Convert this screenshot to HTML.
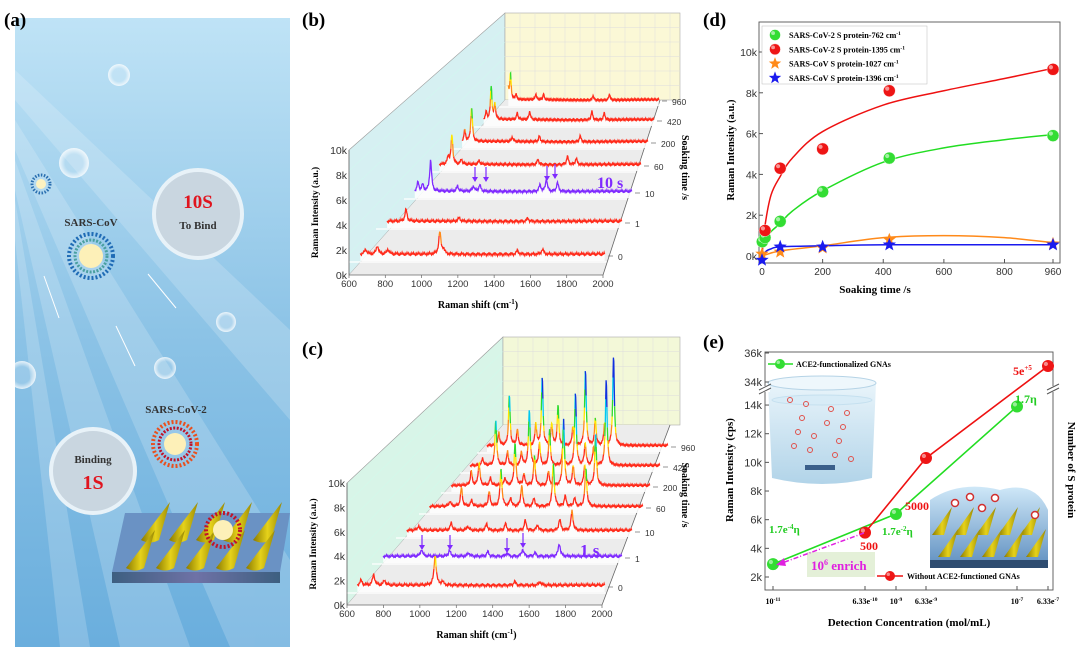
<!DOCTYPE html>
<html><head><meta charset="utf-8">
<style>
html,body{margin:0;padding:0;background:#fff;}
svg{display:block;font-family:"Liberation Sans",sans-serif;}
.serif{font-family:"Liberation Serif",serif;font-weight:bold;}
</style></head>
<body>
<svg id="fig" width="1080" height="663" viewBox="0 0 1080 663" xmlns="http://www.w3.org/2000/svg">
<defs>
<linearGradient id="bgA" x1="0" y1="0" x2="0" y2="1">
<stop offset="0" stop-color="#bfe3f6"/><stop offset="0.5" stop-color="#8cc3e6"/><stop offset="1" stop-color="#6aaedd"/></linearGradient>
<linearGradient id="sub" x1="0" y1="0" x2="1" y2="0"><stop offset="0" stop-color="#3d5f80"/><stop offset="0.5" stop-color="#6f72a6"/><stop offset="1" stop-color="#3d5f80"/></linearGradient>
<radialGradient id="bub"><stop offset="0.6" stop-color="#fff" stop-opacity="0.15"/><stop offset="1" stop-color="#fff" stop-opacity="0.8"/></radialGradient>
<linearGradient id="cone" x1="0" y1="0" x2="1" y2="0"><stop offset="0" stop-color="#8a7a00"/><stop offset="0.5" stop-color="#e6d21a"/><stop offset="1" stop-color="#9a8a05"/></linearGradient>
<linearGradient id="beaker" x1="0" y1="0" x2="0" y2="1"><stop offset="0" stop-color="#e6f3fa"/><stop offset="1" stop-color="#a9cfe6"/></linearGradient>
<linearGradient id="drop" x1="0" y1="0" x2="0" y2="1"><stop offset="0" stop-color="#cfe8f8"/><stop offset="1" stop-color="#5f8fc0"/></linearGradient>
</defs>

<!-- Panel (a) -->
<g>
<rect x="15" y="18" width="275" height="629" fill="url(#bgA)"/>
<text x="4" y="26" class="serif" font-size="19">(a)</text>
<g fill="#fff" opacity="0.18">
<polygon points="15,70 15,100 290,420 290,330"/>
<polygon points="15,120 15,150 230,647 290,647 290,560"/>
<polygon points="15,160 15,190 120,647 190,647"/>
<polygon points="15,200 15,240 60,647 90,647"/>
</g>
<g>
<circle cx="119" cy="75" r="11" fill="url(#bub)"/><circle cx="74" cy="163" r="15" fill="url(#bub)"/>
<circle cx="226" cy="322" r="10" fill="url(#bub)"/><circle cx="165" cy="368" r="11" fill="url(#bub)"/>
<circle cx="22" cy="375" r="14" fill="url(#bub)"/>
</g>
<g><circle cx="41" cy="184" r="9" fill="none" stroke="#2a6fb0" stroke-width="3" stroke-dasharray="1.5 1.5"/><circle cx="41" cy="184" r="5" fill="#fdf2c0"/></g>
<g><circle cx="91" cy="256" r="22" fill="none" stroke="#1f6bb5" stroke-width="4" stroke-dasharray="2 2"/><circle cx="91" cy="256" r="16" fill="none" stroke="#4aa0a0" stroke-width="3" stroke-dasharray="2 1.5"/><circle cx="91" cy="256" r="12" fill="#fdf0b8"/></g>
<text x="91" y="226" text-anchor="middle" class="serif" font-size="11" fill="#333">SARS-CoV</text>
<circle cx="198" cy="214" r="44" fill="#c9d6e0" stroke="#e8f2f8" stroke-width="4"/>
<text x="198" y="208" text-anchor="middle" class="serif" font-size="19" fill="#e0141e">10S</text>
<text x="198" y="229" text-anchor="middle" class="serif" font-size="11" fill="#333">To Bind</text>
<circle cx="93" cy="471" r="42" fill="#c9d6e0" stroke="#e8f2f8" stroke-width="4"/>
<text x="93" y="463" text-anchor="middle" class="serif" font-size="11" fill="#333">Binding</text>
<text x="93" y="489" text-anchor="middle" class="serif" font-size="20" fill="#e0141e">1S</text>
<g stroke="#fff" stroke-width="1" fill="#fff">
<line x1="44" y1="276" x2="59" y2="318"/><line x1="148" y1="274" x2="176" y2="308"/><line x1="116" y1="326" x2="135" y2="366"/></g>
<text x="176" y="413" text-anchor="middle" class="serif" font-size="11" fill="#333">SARS-CoV-2</text>
<g><circle cx="175" cy="444" r="22" fill="none" stroke="#e8501e" stroke-width="4" stroke-dasharray="2 2"/><circle cx="175" cy="444" r="16" fill="none" stroke="#c0142a" stroke-width="3" stroke-dasharray="2 1.5"/><circle cx="175" cy="444" r="11" fill="#fdf0b8"/></g>
<polygon points="125,513 290,513 280,572 112,572" fill="#6a92c4"/>
<rect x="112" y="572" width="168" height="11" fill="url(#sub)"/>
<g id="cones"></g>
<g><circle cx="223" cy="530" r="17" fill="none" stroke="#c0142a" stroke-width="4" stroke-dasharray="2 2"/><circle cx="223" cy="530" r="10" fill="#fdf0b8"/></g>
</g>

<text x="302" y="26" class="serif" font-size="19">(b)</text>
<text x="302" y="355" class="serif" font-size="19">(c)</text>
<text x="703" y="26" class="serif" font-size="19">(d)</text>
<text x="703" y="348" class="serif" font-size="19">(e)</text>

<g id="panelB"></g>
<g id="panelC"></g>
<g id="panelD"></g>
<g id="panelE"></g>
</svg>

<script>
const NS="http://www.w3.org/2000/svg";
function mk(tag,attrs,parent,text){const e=document.createElementNS(NS,tag);for(const k in attrs)e.setAttribute(k,attrs[k]);if(text!==undefined)e.textContent=text;if(parent)parent.appendChild(e);return e;}

(function(){const g=document.getElementById('cones');
const conePos=[[150,540],[178,540],[205,540],[232,540],[262,540],[135,568],[165,568],[195,568],[225,568],[255,568]];
conePos.forEach(p=>{const c=mk('path',{d:`M${p[0]-9},${p[1]} Q${p[0]},${p[1]+5} ${p[0]+9},${p[1]} L${p[0]+20},${p[1]-38} Z`,fill:'url(#cone)'},g);

});})();

const shiftTicks=[600,800,1000,1200,1400,1600,1800,2000];
const intensityTicks=[0,2,4,6,8,10];
const soakLabels=["0","1","10","60","200","420","960"];
const bPeaks0=[[660,.4],[725,.7],[785,.4],[1075,1.8],[1095,.4],[1510,.3],[1650,.4]];
const bPeaks1=[[740,1.0],[1050,.3],[1450,.25]];
const bPeaks10=[[650,.8],[680,.6],[730,2.9],[900,.5],[1000,.5],[1040,.6],[1420,.6],[1460,1.1],[1530,.8]];
const bPeaks60=[[690,.8],[715,2.9],[780,.5],[900,.4],[1300,.5],[1500,.8],[1560,.6]];
const bPeaks200=[[650,1.2],[700,3.7],[1000,.5],[1200,.6],[1500,.6]];
const bPeaks420=[[650,.9],[690,3.9],[720,1.8],[900,.8],[1000,1],[1500,1],[1600,.8]];
const bPeaks960=[[630,1.5],[650,3.4],[700,.8],[880,.8],[950,.8],[1400,.6],[1550,.8]];
const cPeaks0=[[650,.4],[720,.9],[780,.4],[1060,2.5],[1100,.3],[1500,.3],[1640,.3]];
const cPeaks1=[[850,.6],[1010,.5],[1120,.3],[1230,.4],[1340,.3],[1430,.6],[1500,.3],[1640,1.1]];
const cPeaks10=[[700,.4],[900,.7],[1000,.4],[1115,.6],[1230,.6],[1350,.9],[1425,.5],[1560,1.0],[1635,1.8]];
const cPeaks60=[[760,.5],[834,1.8],[900,.6],[1012,1.4],[1088,3.6],[1150,.8],[1221,2.0],[1300,.8],[1424,4.2],[1500,1.0],[1560,.8],[1633,3.7]];
const cPeaks200=[[767,1.5],[821,2.4],[900,.8],[1000,.8],[1069,4.4],[1130,1.2],[1203,3.0],[1300,1.5],[1404,6.8],[1470,2.0],[1550,2.2],[1625,5.2]];
const cPeaks420=[[720,.8],[815,5.0],[900,1.5],[1000,1.5],[1057,6.1],[1130,2.5],[1203,3.8],[1300,2.2],[1390,7.9],[1460,2.5],[1520,2.0],[1612,9.4]];
const cPeaks960=[[720,1.5],[799,5.7],[860,1.8],[1000,2.5],[1048,7.7],[1120,2.5],[1168,4.5],[1280,2.2],[1375,8.5],[1450,3.0],[1520,2.5],[1588,10.2]];

function heightColor(k){if(k<1.3)return '#ff2a1a';if(k<2.2)return '#ff8a1a';if(k<3.2)return '#ffe600';if(k<4.8)return '#2edb2e';if(k<7)return '#00c8f0';return '#1030e0';}

function waterfall(gid,geo,rows,peaksList,special,clipX){
 const g=document.getElementById(gid);
 const [ax,a0,a10,xr,backX,backTop,backBot,rightBack,wallCol,backCol]=geo;
 const sw=mk('polygon',{points:`${ax},${a10} ${backX},${backTop} ${backX},${backBot} ${ax},${a0}`,fill:wallCol,stroke:'#999','stroke-width':0.6},g);
 
 const bw=mk('rect',{x:backX,y:backTop,width:clipX-backX,height:backBot-backTop,fill:backCol,stroke:'#aaa','stroke-width':0.6},g);
 
 for(let i=1;i<12;i++){mk('line',{x1:backX+i*15,y1:backTop,x2:backX+i*15,y2:backBot,stroke:'#ddd','stroke-width':0.5},g);}
 for(let i=1;i<6;i++){mk('line',{x1:backX,y1:backTop+i*(backBot-backTop)/6,x2:clipX,y2:backTop+i*(backBot-backTop)/6,stroke:'#ddd','stroke-width':0.5},g);
  mk('line',{x1:ax,y1:a10+i*(a0-a10)/6,x2:backX,y2:backTop+i*(backBot-backTop)/6,stroke:'#cfe','stroke-width':0.4},g);}
 const fl=mk('polygon',{points:`${ax},${a0} ${xr},${a0} ${rightBack},${backBot} ${backX},${backBot}`,fill:'#ececec'},g);
 
 rows.forEach((r,i)=>{mk('line',{x1:r[0]-6,y1:r[2]+6,x2:r[1]+4,y2:r[2]+6,stroke:'#fff','stroke-width':1.2},g);});
 mk('line',{x1:ax,y1:a0,x2:xr,y2:a0,stroke:'#666','stroke-width':0.8},g);
 mk('line',{x1:ax,y1:a0,x2:ax,y2:a10,stroke:'#666','stroke-width':0.8},g);
 mk('line',{x1:xr,y1:a0,x2:rightBack,y2:backBot,stroke:'#666','stroke-width':0.8},g);
 const xs=v=>ax+(v-600)/1400*(xr-ax);
 shiftTicks.forEach(t=>{const tx=mk('text',{x:xs(t),y:a0+12,'font-size':9.5,'text-anchor':'middle',fill:'#333'},g,t);
  
  mk('line',{x1:xs(t),y1:a0,x2:xs(t),y2:a0+3,stroke:'#666','stroke-width':0.7},g);});
 intensityTicks.forEach(t=>{const y=a0-t/10*(a0-a10);const tx=mk('text',{x:ax-2,y:y+4,'font-size':10.5,'text-anchor':'end',fill:'#333'},g,t+'k');
  });
 const yt=mk('text',{transform:`translate(${ax-31},${(a0+a10)/2}) rotate(-90)`,'text-anchor':'middle','font-size':9.5,class:'serif'},g,'Raman Intensity (a.u.)');
 
 const xt=mk('text',{x:(ax+xr)/2+2,y:a0+33,'text-anchor':'middle','font-size':10,class:'serif'},g);
 
 xt.appendChild(document.createTextNode('Raman shift (cm'));mk('tspan',{dy:-4,'font-size':7},xt,'-1');mk('tspan',{dy:4},xt,')');
 const kpx=(a0-a10)/10;
 for(let i=rows.length-1;i>=0;i--){
  const [L,R,B]=rows[i];const sc=kpx*(R-L)/(xr-ax);const pk=peaksList[i];
  const rx=v=>L+(v-600)/1400*(R-L);
  mk('text',{x:R+13,y:B+4,'font-size':8.5,fill:'#333'},g,soakLabels[i]);
  mk('line',{x1:R+3,y1:B,x2:R+8,y2:B,stroke:'#666','stroke-width':0.7},g);
  const pts=[];
  for(let v=630;v<=2000;v+=3){let h=0.08*Math.sin(v*0.7)+0.06*Math.sin(v*2.3)+0.15;pk.forEach(p=>{h+=p[1]/(1+Math.pow((v-p[0])/7,2));});
   const x=rx(v);if(x>clipX)break;pts.push([x,B-h*sc,h]);}
  const poly=mk('polygon',{points:pts.map(p=>p[0].toFixed(1)+','+p[1].toFixed(1)).join(' ')+` ${pts[pts.length-1][0]},${B+5} ${pts[0][0]},${B+5}`,fill:'#fff',opacity:0.85},g);
  
  let seg=[pts[0]],col=special===i?'#7f2aff':heightColor(pts[0][2]);
  const flush=()=>{if(seg.length>1){const pl=mk('polyline',{points:seg.map(p=>p[0].toFixed(1)+','+p[1].toFixed(1)).join(' '),fill:'none',stroke:col,'stroke-width':1.3},g);
    }};
  for(let j=1;j<pts.length;j++){const c=special===i?'#7f2aff':heightColor(pts[j][2]);seg.push(pts[j]);if(c!==col){flush();seg=[pts[j]];col=c;}}
  flush();
 }
 const st=mk('text',{transform:`translate(${clipX+2},${(backBot+a0)/2-20}) rotate(90)`,'text-anchor':'middle','font-size':10,class:'serif'},g,'Soaking time /s');
 
}
waterfall('panelB',[349,275,150,603,505,13,100,660,'#d6f0f2','#fbf8d6'],
 [[355,605,256],[382,622,223],[410,632,193],[435,641,166],[458,648,143],[480,654,121],[505,659,101]],
 [bPeaks0,bPeaks1,bPeaks10,bPeaks60,bPeaks200,bPeaks420,bPeaks960],2,680);
waterfall('panelC',[347,605,483,602,503,337,425,670,'#d8f5e8','#f3f8d8'],
 [[352,605,587],[378,622,558],[402,632,532],[425,643,508],[447,650,487],[466,660,467],[483,668,447]],
 [cPeaks0,cPeaks1,cPeaks10,cPeaks60,cPeaks200,cPeaks420,cPeaks960],1,680);
(function(){
 const gb=document.getElementById('panelB'),gc=document.getElementById('panelC');
 const t1=mk('text',{x:597,y:188,'font-size':16,fill:'#7f2aff',class:'serif'},gb,'10 s');
 const t2=mk('text',{x:580,y:556,'font-size':17,fill:'#7f2aff',class:'serif'},gc,'1 s');
 [[475,167],[486,167],[547,166],[555,164]].forEach(a=>{mk('line',{x1:a[0],y1:a[1],x2:a[0],y2:a[1]+14,stroke:'#7f2aff','stroke-width':1.2},gb);mk('polygon',{points:`${a[0]-3},${a[1]+10} ${a[0]+3},${a[1]+10} ${a[0]},${a[1]+15}`,fill:'#7f2aff'},gb);});
 [[422,535],[450,535],[507,538],[523,533]].forEach(a=>{mk('line',{x1:a[0],y1:a[1],x2:a[0],y2:a[1]+14,stroke:'#7f2aff','stroke-width':1.2},gc);mk('polygon',{points:`${a[0]-3},${a[1]+10} ${a[0]+3},${a[1]+10} ${a[0]},${a[1]+15}`,fill:'#7f2aff'},gc);});
})();

const dTimeTicks=[0,200,400,600,800,960];
const dYTicks=[0,2,4,6,8,10];
const greenT=[1,10,60,200,420,960];
const greenV=[0.7,0.9,1.7,3.15,4.8,5.9];
const redT=[10,60,200,420,960];
const redV=[1.25,4.3,5.25,8.1,9.15];
const orangeT=[0,60,200,420,960];
const orangeV=[0.1,0.2,0.4,0.8,0.6];
const blueT=[0,60,200,420,960];
const blueV=[-0.2,0.45,0.45,0.55,0.55];
const redFitT=[0,10,30,60,100,200,400,600,800,960];
const redFitV=[0,1.5,3.0,3.9,4.8,6.1,7.4,8.1,8.7,9.2];
const greenFitT=[0,10,30,60,100,200,400,600,800,960];
const greenFitV=[0.5,0.8,1.2,1.6,2.2,3.2,4.6,5.3,5.7,5.95];
const orangeFitT=[0,60,200,400,600,800,960];
const orangeFitV=[0,0.25,0.5,0.9,1.0,0.9,0.65];
const blueFitT=[0,15,30,60,200,420,960];
const blueFitV=[0,0.25,0.35,0.45,0.5,0.55,0.55];
(function(){
 const g=document.getElementById('panelD');
 const X0=762,X1=1053,Y0=256,Y10=52;
 const xs=t=>X0+t/960*(X1-X0), ys=v=>Y0-v/10*(Y0-Y10);
 const box=mk('rect',{x:759,y:22,width:301,height:241,fill:'none',stroke:'#555','stroke-width':0.9},g);
 
 dTimeTicks.forEach(t=>{mk('line',{x1:xs(t),y1:263,x2:xs(t),y2:259,stroke:'#555'},g);
  const tx=mk('text',{x:xs(t),y:275,'font-size':10,'text-anchor':'middle',fill:'#333'},g,t);});
 dYTicks.forEach(t=>{mk('line',{x1:759,y1:ys(t),x2:763,y2:ys(t),stroke:'#555'},g);
  const tx=mk('text',{x:757,y:ys(t)+4,'font-size':10.5,'text-anchor':'end',fill:'#333'},g,t+'k');});
 const xt=mk('text',{x:875,y:293,'text-anchor':'middle','font-size':11,class:'serif'},g,'Soaking time /s');
 const yt=mk('text',{transform:'translate(734,150) rotate(-90)','text-anchor':'middle','font-size':10.5,class:'serif'},g,'Raman Intensity (a.u.)');
 function smooth(T,V){const p=T.map((t,i)=>[xs(t),ys(V[i])]);let d=`M${p[0][0]},${p[0][1]}`;
  for(let i=0;i<p.length-1;i++){const p0=p[i-1]||p[i],p1=p[i],p2=p[i+1],p3=p[i+2]||p2;
   d+=` C${p1[0]+(p2[0]-p0[0])/6},${p1[1]+(p2[1]-p0[1])/6} ${p2[0]-(p3[0]-p1[0])/6},${p2[1]-(p3[1]-p1[1])/6} ${p2[0]},${p2[1]}`;}return d;}
 [[greenFitT,greenFitV,'#22dd22','fit-green'],[redFitT,redFitV,'#ee1111','fit-red'],[orangeFitT,orangeFitV,'#ff8a1a','fit-orange'],[blueFitT,blueFitV,'#1a1aee','fit-blue']].forEach(f=>{
  const p=mk('path',{d:smooth(f[0],f[1]),fill:'none',stroke:f[2],'stroke-width':1.5},g);});
 function ball(x,y,c,r){const b=mk('circle',{cx:x,cy:y,r:r,fill:c,stroke:'#fff','stroke-width':0.4},g);mk('circle',{cx:x-r*0.35,cy:y-r*0.35,r:r*0.35,fill:'#fff',opacity:0.55},g);return b;}
 function star(x,y,c,r){let pts=[];for(let i=0;i<10;i++){const a=-Math.PI/2+i*Math.PI/5,rr=i%2?r*0.42:r;pts.push((x+rr*Math.cos(a)).toFixed(1)+','+(y+rr*Math.sin(a)).toFixed(1));}return mk('polygon',{points:pts.join(' '),fill:c},g);}
 greenT.forEach((t,i)=>{const b=ball(xs(t),ys(greenV[i]),'#33dd33',6);});
 redT.forEach((t,i)=>{const b=ball(xs(t),ys(redV[i]),'#ee1515',6);});
 orangeT.forEach((t,i)=>{const b=star(xs(t),ys(orangeV[i]),'#ff8a1a',7);});
 blueT.forEach((t,i)=>{const b=star(xs(t),ys(blueV[i]),'#1a1aee',7);});
 const lg=mk('rect',{x:762,y:26,width:165,height:58,fill:'#fff',stroke:'#bbb','stroke-width':0.5},g);
 const items=[['SARS-CoV-2 S protein-762 cm','#33dd33','b'],['SARS-CoV-2 S protein-1395 cm','#ee1515','b'],['SARS-CoV S protein-1027 cm','#ff8a1a','s'],['SARS-CoV S protein-1396 cm','#1a1aee','s']];
 items.forEach((it,i)=>{const y=35+i*14.3;if(it[2]==='b')ball(775,y,it[1],5.5);else star(775,y,it[1],6.5);
  const t=mk('text',{x:789,y:y+3,'font-size':8.2,class:'serif'},g,it[0]);mk('tspan',{dy:-3,'font-size':5.5},t,'-1');
  });
})();

const eXTickLabels=['10','6.33e','10','6.33e','10','6.33e'];
const eXTickExp=['-11','-10','-9','-9','-7','-7'];
const eXTickPos=[-11,-9.2,-9,-8.2,-7,-6.2];
const eLowTicks=[2,4,6,8,10,12,14];
const eHighTicks=[34,36];
const greenConcLog=[-11,-9,-7];
const greenInt=[2.9,6.4,13.9];
const redConcLog=[-9.2,-8.2,-6.2];
const redInt=[5.1,10.3,35.1];
(function(){
 const g=document.getElementById('panelE');
 const anchorsL=[-11,-9.2,-9,-8.2,-7,-6.2], anchorsP=[773,865,896,926,1017,1048];
 const xs=l=>{for(let i=0;i<anchorsL.length-1;i++){if(l<=anchorsL[i+1]){return anchorsP[i]+(l-anchorsL[i])/(anchorsL[i+1]-anchorsL[i])*(anchorsP[i+1]-anchorsP[i]);}}return anchorsP[anchorsP.length-1];};
 const ys=v=>v>=30?382-(v-34)*14.5:577-(v-2)*14.33;
 const bg=mk('rect',{x:765,y:352,width:288,height:238,fill:'#fff',stroke:'#555','stroke-width':0.9},g);
 const bk=mk('g',{},g);
 mk('path',{d:'M768,383 L772,478 Q822,490 872,478 L876,383 Z',fill:'url(#beaker)',opacity:0.9},bk);
 mk('ellipse',{cx:822,cy:383,rx:54,ry:7,fill:'#eef7fc',stroke:'#b5d3e6'},bk);
 mk('ellipse',{cx:822,cy:400,rx:50,ry:5,fill:'#d8ecf7',stroke:'#c5e0ef'},bk);
 for(let i=0;i<14;i++){const cx=790+((i*37)%70),cy=400+((i*23)%60);mk('circle',{cx:cx,cy:cy,r:2.5,fill:'none',stroke:'#e0504a','stroke-width':1},bk);}
 mk('rect',{x:805,y:465,width:30,height:5,fill:'#3a5f8a'},bk);
 const nc=mk('g',{},g);
 mk('path',{d:'M930,567 L930,500 Q960,480 1000,490 Q1035,480 1048,510 L1048,567 Z',fill:'url(#drop)'},nc);
 mk('rect',{x:930,y:560,width:118,height:8,fill:'#2e4c70'},nc);
 for(let r=0;r<2;r++)for(let c=0;c<5;c++){const x=938+c*22+r*6,y=535+r*22;mk('path',{d:`M${x-6},${y} L${x+6},${y} L${x+14},${y-28} Z`,fill:'url(#cone)'},nc);}
 [[955,503],[970,497],[995,498],[1035,515],[982,508]].forEach(p=>mk('circle',{cx:p[0],cy:p[1],r:3.5,fill:'#fff',stroke:'#d03030','stroke-width':1.5},nc));
 mk('rect',{x:760,y:386,width:10,height:6,fill:'#fff'},g);mk('rect',{x:1048,y:386,width:10,height:6,fill:'#fff'},g);
 mk('line',{x1:759,y1:390,x2:771,y2:384,stroke:'#555'},g);mk('line',{x1:759,y1:394,x2:771,y2:388,stroke:'#555'},g);
 mk('line',{x1:1047,y1:390,x2:1059,y2:384,stroke:'#555'},g);mk('line',{x1:1047,y1:394,x2:1059,y2:388,stroke:'#555'},g);
 eLowTicks.concat(eHighTicks).forEach(t=>{mk('line',{x1:765,y1:ys(t),x2:769,y2:ys(t),stroke:'#555'},g);
  const tx=mk('text',{x:762,y:ys(t)+4,'font-size':11,'text-anchor':'end',fill:'#333'},g,t+'k');});
 eXTickPos.forEach((l,i)=>{mk('line',{x1:xs(l),y1:590,x2:xs(l),y2:586,stroke:'#555'},g);
  const tx=mk('text',{x:xs(l),y:604,'font-size':8,'text-anchor':'middle',class:'serif'},g,eXTickLabels[i]);mk('tspan',{dy:-3,'font-size':5.5},tx,eXTickExp[i]);
  });
 const xt=mk('text',{x:909,y:626,'text-anchor':'middle','font-size':11,class:'serif'},g,'Detection Concentration (mol/mL)');
 const yt=mk('text',{transform:'translate(733,470) rotate(-90)','text-anchor':'middle','font-size':11,class:'serif'},g,'Raman Intensity (cps)');
 const rt=mk('text',{transform:'translate(1068,470) rotate(90)','text-anchor':'middle','font-size':11,class:'serif'},g,'Number of S protein');
 const gl=mk('polyline',{points:greenConcLog.map((l,i)=>xs(l)+','+ys(greenInt[i])).join(' '),fill:'none',stroke:'#22dd22','stroke-width':1.6},g);
 const rl=mk('polyline',{points:redConcLog.map((l,i)=>xs(l)+','+ys(redInt[i])).join(' '),fill:'none',stroke:'#ee1111','stroke-width':1.6},g);
 mk('rect',{x:996,y:384,width:14,height:8,fill:'#fff'},g);
 function ball(x,y,c,r){const b=mk('circle',{cx:x,cy:y,r:r,fill:c},g);mk('circle',{cx:x-r*0.35,cy:y-r*0.35,r:r*0.35,fill:'#fff',opacity:0.5},g);return b;}
 greenConcLog.forEach((l,i)=>{const b=ball(xs(l),ys(greenInt[i]),'#33dd33',6);});
 redConcLog.forEach((l,i)=>{const b=ball(xs(l),ys(redInt[i]),'#ee1515',6);});
 const ann=[[860,550,'500','#ee1111',12],[905,510,'5000','#ee1111',12],[1013,375,'5e','#ee1111',12],[1015,403,'1.7η','#22cc22',12],[882,535,'1.7e','#22cc22',11],[769,533,'1.7e','#22cc22',11]];
 ann.forEach((a,i)=>{const t=mk('text',{x:a[0],y:a[1],'font-size':a[4],fill:a[3],class:'serif'},g,a[2]);
  if(i===2)mk('tspan',{dy:-5,'font-size':7},t,'+5');
  if(i===4){mk('tspan',{dy:-4,'font-size':7},t,'-2');mk('tspan',{dy:4},t,'η');}
  if(i===5){mk('tspan',{dy:-4,'font-size':7},t,'-4');mk('tspan',{dy:4},t,'η');}
  });
 mk('rect',{x:807,y:552,width:68,height:25,fill:'#e4f0d8'},g);
 const en=mk('text',{x:811,y:570,'font-size':13,fill:'#e020e0',class:'serif'},g,'10');mk('tspan',{dy:-5,'font-size':8},en,'6');mk('tspan',{dy:5},en,' enrich');
 
 const ar=mk('line',{x1:864,y1:533,x2:782,y2:563,stroke:'#e020e0','stroke-width':1.5,'stroke-dasharray':'5 2 1 2'},g);
 mk('polygon',{points:'776,565 784,558 786,566',fill:'#e020e0'},g);
 mk('line',{x1:768,y1:364,x2:793,y2:364,stroke:'#22dd22','stroke-width':1.6},g);ball(780,364,'#33dd33',5);
 const l1=mk('text',{x:796,y:367,'font-size':8,class:'serif'},g,'ACE2-functionalized GNAs');
 mk('line',{x1:877,y1:576,x2:903,y2:576,stroke:'#ee1111','stroke-width':1.6},g);ball(890,576,'#ee1515',5);
 const l2=mk('text',{x:907,y:579,'font-size':8,class:'serif'},g,'Without ACE2-functioned GNAs');
})();
</script>
</body></html>
